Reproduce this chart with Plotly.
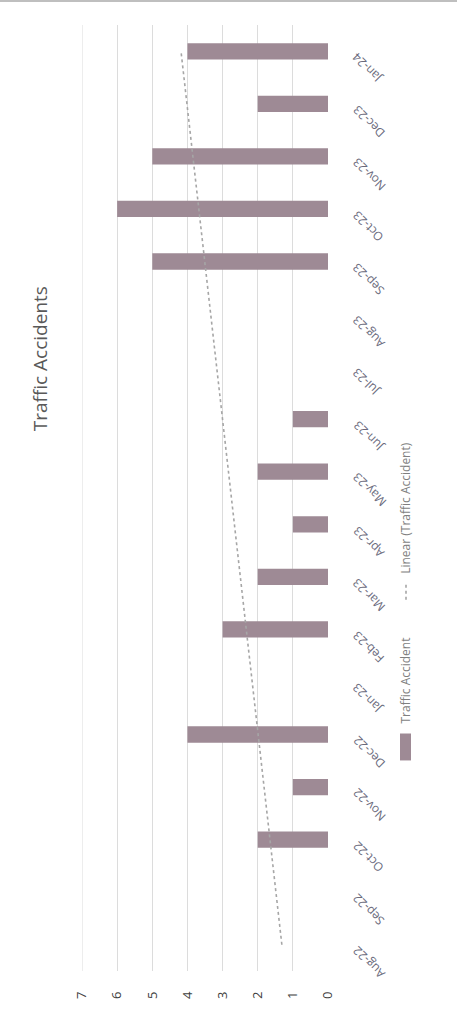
import numpy as np
import plotly.graph_objects as go

# Monthly traffic accident counts (blank months have no recorded accidents)
months = ["Aug-22", "Sep-22", "Oct-22", "Nov-22", "Dec-22", "Jan-23", "Feb-23",
          "Mar-23", "Apr-23", "May-23", "Jun-23", "Jul-23", "Aug-23", "Sep-23",
          "Oct-23", "Nov-23", "Dec-23", "Jan-24"]
accidents = [None, None, 2, 1, 4, None, 3, 2, 1, 2, 1, None, None, 5, 6, 5, 2, 4]
value_ticks = [0, 1, 2, 3, 4, 5, 6, 7]

title_text = "Traffic Accidents"
series_name = "Traffic Accident"
trend_name = "Linear (Traffic Accident)"

BAR = "#9e8a95"
GRID = "#dcdcdc"
TXT = "#595959"
TREND = "#a6a6a6"

# linear trendline fitted over the months that have values (Excel-style)
idx = np.arange(1, len(months) + 1)
mask = np.array([v is not None for v in accidents])
yv = np.array([v if v is not None else 0 for v in accidents], dtype=float)
slope, intercept = np.polyfit(idx[mask], yv[mask], 1)
trend = slope * idx + intercept

W, H = 457, 1011
L, R, T, B = 82, 328, 25, 973


def px(x):
    return (x - L) / (R - L)


def py(y):
    return (B - y) / (B - T)


fig = go.Figure()
fig.add_trace(go.Bar(
    x=accidents, y=months, orientation="h", width=0.31,
    marker=dict(color=BAR, line=dict(width=0)), name=series_name,
))
fig.add_trace(go.Scatter(
    x=trend, y=months, mode="lines",
    line=dict(color=TREND, width=1.6, dash="dot"), name=trend_name,
))

annotations = [
    dict(text=title_text, x=px(40), y=py(360), xref="paper", yref="paper",
         showarrow=False, textangle=-90, xanchor="center", yanchor="middle",
         font=dict(family="Open Sans", size=19, color=TXT)),
    dict(text=series_name, x=px(406), y=py(727), xref="paper", yref="paper",
         showarrow=False, textangle=-90, xanchor="center", yanchor="bottom",
         font=dict(family="Open Sans", size=12, color="#7f7f7f")),
    dict(text=trend_name, x=px(406), y=py(577), xref="paper", yref="paper",
         showarrow=False, textangle=-90, xanchor="center", yanchor="bottom",
         font=dict(family="Open Sans", size=12, color="#7f7f7f")),
]

# month labels, slanted and hung off the right-hand axis
for m in months:
    annotations.append(dict(
        text=m, x=px(346), y=m, xref="paper", yref="y", yshift=5,
        showarrow=False, textangle=-135, xanchor="left", yanchor="top",
        font=dict(family="Open Sans", size=12, color="#6a6a7c"),
    ))

shapes = [
    # gridline at the top of the value scale
    dict(type="line", xref="x", yref="paper", x0=7, x1=7, y0=0, y1=1,
         line=dict(color=GRID, width=1)),
    # legend swatch for the bars
    dict(type="rect", xref="paper", yref="paper", x0=px(400), x1=px(411),
         y0=py(762), y1=py(735), fillcolor=BAR, line=dict(width=0)),
    # legend sample for the trendline
    dict(type="line", xref="paper", yref="paper", x0=px(406), x1=px(406),
         y0=py(601), y1=py(583), line=dict(color=TREND, width=1.6, dash="dot")),
    # outer chart edge
    dict(type="line", xref="paper", yref="paper", x0=px(0), x1=px(W),
         y0=py(1), y1=py(1), line=dict(color="#bfbfbf", width=2)),
]

fig.update_layout(
    width=W, height=H,
    margin=dict(l=L, r=W - R, t=T, b=H - B, pad=0),
    paper_bgcolor="white", plot_bgcolor="white",
    showlegend=False,
    annotations=annotations, shapes=shapes,
    font=dict(family="Open Sans", color=TXT),
)
fig.update_xaxes(
    range=[7, 0], tickvals=value_ticks, ticktext=[str(v) for v in value_ticks],
    tickangle=-90, showgrid=True, gridcolor=GRID, gridwidth=1,
    zeroline=False, showline=False, ticks="", ticklabelstandoff=17,
    tickfont=dict(family="Open Sans", size=13, color="#404040"),
)
fig.update_yaxes(
    side="right", type="category", categoryorder="array", categoryarray=months,
    range=[-0.5, len(months) - 0.5],
    showgrid=False, zeroline=False, showline=False, ticks="",
    showticklabels=False,
)

fig.write_html("out.html")
